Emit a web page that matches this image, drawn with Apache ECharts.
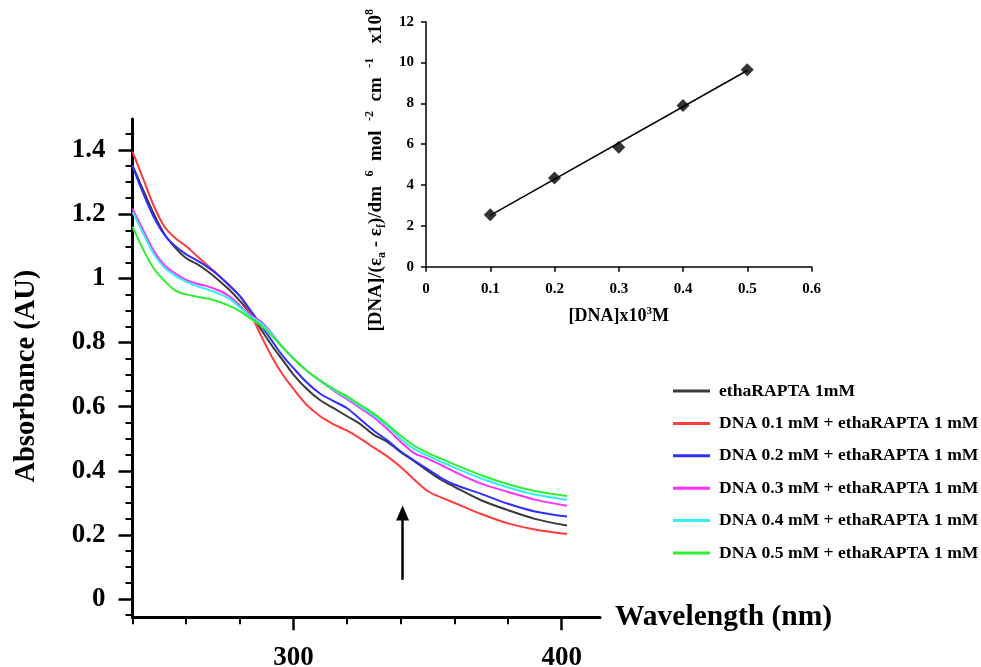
<!DOCTYPE html>
<html>
<head>
<meta charset="utf-8">
<script src="https://cdn.jsdelivr.net/npm/echarts@6/dist/echarts.min.js"></script>
<style>html,body{margin:0;padding:0;background:#fff}#c{width:981px;height:667px}</style>
</head>
<body>
<div id="c"></div>
<script>
// ---- main spectra data ----
var wavelengths = [240,244,248,252,256,260,264,268,272,276,280,284,288,292,296,300,305,310,315,320,325,330,335,340,345,350,355,360,370,380,390,402];
var seriesNames = ['ethaRAPTA 1mM','DNA 0.1 mM + ethaRAPTA 1 mM','DNA 0.2 mM + ethaRAPTA 1 mM','DNA 0.3 mM + ethaRAPTA 1 mM','DNA 0.4 mM + ethaRAPTA 1 mM','DNA 0.5 mM + ethaRAPTA 1 mM'];
var absFree  = [1.353,1.275,1.20,1.137,1.095,1.063,1.045,1.022,0.995,0.965,0.93,0.89,0.84,0.79,0.745,0.70,0.655,0.62,0.595,0.57,0.545,0.512,0.49,0.458,0.43,0.40,0.372,0.35,0.308,0.277,0.25,0.229];
var absDNA01 = [1.395,1.31,1.225,1.16,1.125,1.10,1.07,1.04,1.01,0.98,0.945,0.89,0.82,0.755,0.70,0.655,0.605,0.57,0.545,0.525,0.50,0.472,0.445,0.412,0.373,0.337,0.317,0.30,0.265,0.236,0.217,0.203];
var absDNA02 = [1.35,1.265,1.19,1.135,1.10,1.075,1.056,1.035,1.01,0.978,0.945,0.90,0.853,0.805,0.758,0.72,0.675,0.64,0.617,0.595,0.56,0.525,0.495,0.46,0.432,0.405,0.378,0.357,0.328,0.297,0.273,0.257];
var absDNA03 = [1.218,1.15,1.085,1.04,1.015,0.995,0.983,0.975,0.963,0.945,0.915,0.885,0.865,0.828,0.785,0.75,0.712,0.68,0.65,0.623,0.595,0.566,0.53,0.49,0.455,0.438,0.418,0.397,0.36,0.334,0.31,0.291];
var absDNA04 = [1.207,1.14,1.075,1.033,1.008,0.99,0.976,0.965,0.953,0.937,0.91,0.882,0.86,0.825,0.785,0.75,0.712,0.68,0.652,0.628,0.60,0.572,0.54,0.50,0.468,0.447,0.428,0.41,0.376,0.348,0.326,0.309];
var absDNA05 = [1.161,1.09,1.03,0.992,0.962,0.95,0.943,0.937,0.928,0.915,0.898,0.875,0.852,0.82,0.785,0.75,0.712,0.682,0.655,0.632,0.605,0.578,0.545,0.51,0.478,0.456,0.438,0.42,0.386,0.358,0.337,0.321];
var seriesColors = ['#3a3a3a','#ff3b3b','#2f2fff','#ff30ff','#30f0f0','#30ee30'];

// ---- main axis ticks ----
var xMajorTicks = [300,400];
var xMinorTicks = [240,260,280,320,340,360,380];
var yMajorTicks = [0,0.2,0.4,0.6,0.8,1,1.2,1.4];
var yMinorTicks = [-0.05,0.05,0.1,0.15,0.25,0.3,0.35,0.45,0.5,0.55,0.65,0.7,0.75,0.85,0.9,0.95,1.05,1.1,1.15,1.25,1.3,1.35,1.45];

// arrow annotation (data coords)
var arrowFrom = [340.7, 0.06];
var arrowTo = [340.7, 0.268];

// ---- inset data ----
var dnaConc = [0.1,0.2,0.3,0.4,0.5];
var ratioVals = [2.55,4.35,5.85,7.9,9.65];
var fitLine = [[0.1,2.51],[0.5,9.61]];

var FF = "'Liberation Serif','Times New Roman',serif";
var chart = echarts.init(document.getElementById('c'));

var series = [];
var absAll = [absFree, absDNA01, absDNA02, absDNA03, absDNA04, absDNA05];
for (var i = 0; i < seriesNames.length; i++) {
  var d = [];
  for (var j = 0; j < wavelengths.length; j++) d.push([wavelengths[j], absAll[i][j]]);
  var s = {
    name: seriesNames[i], type: 'line', xAxisIndex: 0, yAxisIndex: 0, data: d,
    showSymbol: false, smooth: 0.3, color: seriesColors[i],
    lineStyle: {width: 2, color: seriesColors[i]}, z: 3
  };
  if (i === 0) {
    s.markLine = {
      silent: true, symbol: ['none','triangle'], symbolSize: [13, 15],
      label: {show: false},
      lineStyle: {color: '#000', width: 2.5, type: 'solid'},
      data: [[{coord: arrowFrom}, {coord: arrowTo}]]
    };
  }
  series.push(s);
}
var scatterData = dnaConc.map(function(x, k){ return [x, ratioVals[k]]; });
series.push({type: 'line', xAxisIndex: 2, yAxisIndex: 2, data: fitLine, showSymbol: false,
  lineStyle: {color: '#000', width: 1.5}, color: '#000'});
series.push({type: 'scatter', xAxisIndex: 2, yAxisIndex: 2, data: scatterData, symbol: 'diamond',
  symbolSize: 13, itemStyle: {color: '#000'}});

chart.setOption({
  animation: false,
  backgroundColor: '#fff',
  grid: [
    {left: 132.5, right: 381, top: 119, bottom: 49.7, containLabel: false, outerBoundsMode: 'none'},
    {left: 426, right: 169.5, top: 21.7, bottom: 400.3, containLabel: false, outerBoundsMode: 'none'}
  ],
  legend: {
    data: seriesNames, orient: 'vertical', left: 673, top: 381, padding: 0,
    icon: 'rect', itemWidth: 37, itemHeight: 3, itemGap: 12.4,
    textStyle: {fontFamily: FF, fontWeight: 'bold', fontSize: 17.6, color: '#000', lineHeight: 20, padding: [0,0,0,4]}
  },
  xAxis: [
    {type: 'value', gridIndex: 0, min: 240, max: 414.3,
      axisLine: {onZero: false, lineStyle: {color: '#000', width: 3}},
      axisTick: {customValues: xMajorTicks, length: 13, lineStyle: {color: '#000', width: 2.5}},
      axisLabel: {customValues: xMajorTicks, margin: 27, fontSize: 27, fontFamily: FF, fontWeight: 'bold', color: '#000'},
      splitLine: {show: false},
      name: 'Wavelength (nm)', nameLocation: 'end', nameGap: 15,
      nameTextStyle: {fontFamily: FF, fontWeight: 'bold', fontSize: 29.5, color: '#000', padding: [0,0,16,0]}
    },
    {type: 'value', gridIndex: 0, min: 240, max: 414.3, position: 'bottom',
      axisLine: {show: false, onZero: false},
      axisTick: {customValues: xMinorTicks, length: 7, lineStyle: {color: '#000', width: 2}},
      axisLabel: {show: false}, splitLine: {show: false}
    },
    {type: 'value', gridIndex: 1, min: 0, max: 0.6, interval: 0.1,
      axisLine: {onZero: false, lineStyle: {color: '#000', width: 1.5}},
      axisTick: {length: 5, lineStyle: {color: '#000', width: 1.5}},
      axisLabel: {margin: 15, fontSize: 15, fontFamily: FF, fontWeight: 'bold', color: '#000'},
      splitLine: {show: false},
      name: '{n|[DNA]x10}{p|3}{n|M}', nameLocation: 'middle', nameGap: 39,
      nameTextStyle: {rich: {
        n: {fontFamily: FF, fontWeight: 'bold', fontSize: 18, color: '#000', lineHeight: 22},
        p: {fontFamily: FF, fontWeight: 'bold', fontSize: 11, color: '#000', verticalAlign: 'top', lineHeight: 11}
      }}
    }
  ],
  yAxis: [
    {type: 'value', gridIndex: 0, min: -0.057, max: 1.497,
      axisLine: {onZero: false, lineStyle: {color: '#000', width: 3}},
      axisTick: {customValues: yMajorTicks, length: 14, lineStyle: {color: '#000', width: 2.5}},
      axisLabel: {customValues: yMajorTicks, margin: 27, fontSize: 27, fontFamily: FF, fontWeight: 'bold', color: '#000'},
      splitLine: {show: false},
      name: 'Absorbance (AU)', nameLocation: 'middle', nameGap: 91,
      nameTextStyle: {fontFamily: FF, fontWeight: 'bold', fontSize: 28.5, color: '#000', padding: [0,16,0,0]}
    },
    {type: 'value', gridIndex: 0, min: -0.057, max: 1.497, position: 'left',
      axisLine: {show: false, onZero: false},
      axisTick: {customValues: yMinorTicks, length: 7, lineStyle: {color: '#000', width: 2}},
      axisLabel: {show: false}, splitLine: {show: false}
    },
    {type: 'value', gridIndex: 1, min: 0, max: 12, interval: 2,
      axisLine: {onZero: false, lineStyle: {color: '#000', width: 1.5}},
      axisTick: {length: 5, lineStyle: {color: '#000', width: 1.5}},
      axisLabel: {margin: 12, fontSize: 15, fontFamily: FF, fontWeight: 'bold', color: '#000'},
      splitLine: {show: false},
      name: '{n|[DNA]/(ε}{s|a}{n| - ε}{s|f}{n|)/dm  }{p|6}{n|  mol  }{p|-2}{n|  cm  }{p|-1}{n|   x10}{p|8}',
      nameLocation: 'middle', nameGap: 38,
      nameTextStyle: {padding: [0,52,0,0], rich: {
        n: {fontFamily: FF, fontWeight: 'bold', fontSize: 19, color: '#000', lineHeight: 24},
        s: {fontFamily: FF, fontWeight: 'bold', fontSize: 12, color: '#000', verticalAlign: 'bottom', lineHeight: 16},
        p: {fontFamily: FF, fontWeight: 'bold', fontSize: 12, color: '#000', verticalAlign: 'top', lineHeight: 12}
      }}
    }
  ],
  series: series
});
</script>
</body>
</html>
